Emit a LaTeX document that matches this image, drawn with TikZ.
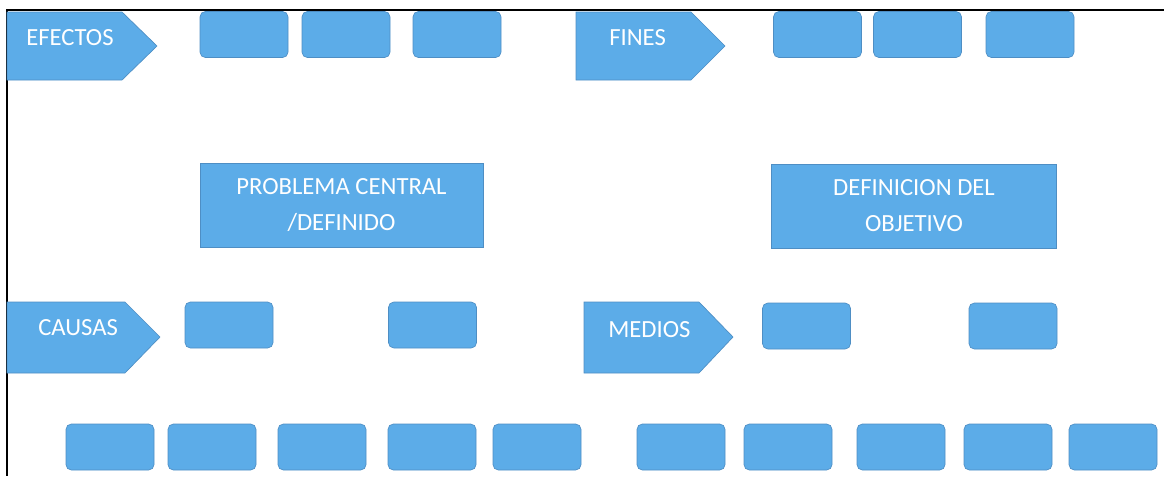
\documentclass[tikz,border=0pt]{standalone}
\usepackage{fontspec}
\setmainfont{Carlito}
\usepackage{tikz}

\definecolor{celeste}{RGB}{92,172,232}
\definecolor{celesteborde}{RGB}{78,142,196}

\tikzset{
  caja/.style={fill=celeste, draw=celesteborde, line width=0.5pt, rounded corners=4pt,
    minimum width=66pt, minimum height=34.5pt, inner sep=0pt},
  cajagrande/.style={fill=celeste, draw=celesteborde, line width=0.5pt,
    minimum height=63pt, inner sep=0pt, align=center, text=white,
    font=\fontsize{18.5}{27}\selectfont},
  flecha/.style={fill=celeste, draw=celesteborde, line width=0.5pt},
  etiqueta/.style={anchor=west, inner sep=0pt, text=white, font=\fontsize{18.5}{22}\selectfont}
}

\begin{document}
\begin{tikzpicture}[x=0.75pt,y=0.75pt,yscale=-1]
\useasboundingbox (0,0) rectangle (1164,476);

%Frame lines
\draw [line width=1.1pt] (1164,10) -- (7,10) -- (7,476) ;

%Arrow shapes
\draw [flecha] (7,12) -- (122,12) -- (157,46) -- (122,80) -- (7,80) -- cycle ;
\draw [flecha] (576,12) -- (691,12) -- (725,46) -- (691,80) -- (576,80) -- cycle ;
\draw [flecha] (7,302) -- (125,302) -- (160,337) -- (125,373) -- (7,373) -- cycle ;
\draw [flecha] (584,302) -- (699,302) -- (733,337) -- (699,373) -- (584,373) -- cycle ;

% Text Node
\node [etiqueta] (efectos) at (26,38) {EFECTOS};
\node [etiqueta] (fines) at (609,38) {FINES};
\node [etiqueta] (causas) at (38,328) {CAUSAS};
\node [etiqueta] (medios) at (608,330) {MEDIOS};

%Top row
\node [caja] (efecto1) at (244,34.5) {};
\node [caja] (efecto2) at (346,34.5) {};
\node [caja] (efecto3) at (457,34.5) {};
\node [caja] (fin1) at (817.5,34.5) {};
\node [caja] (fin2) at (917.5,34.5) {};
\node [caja] (fin3) at (1030,34.5) {};

%Central boxes
\node [cajagrande, minimum width=212pt] (problema) at (341.5,205) {PROBLEMA CENTRAL\\/DEFINIDO};
\node [cajagrande, minimum width=214pt] (objetivo) at (914,206) {DEFINICION DEL\\OBJETIVO};

%Middle row
\node [caja] (causa1) at (229,325) {};
\node [caja] (causa2) at (432.5,325) {};
\node [caja] (medio1) at (806.5,326) {};
\node [caja] (medio2) at (1013,326) {};

%Bottom row
\foreach \cx [count=\i] in {110,212,322,432,537,681,788,901,1008,1113}
  \node [caja] (base\i) at (\cx,447) {};

\end{tikzpicture}
\end{document}
